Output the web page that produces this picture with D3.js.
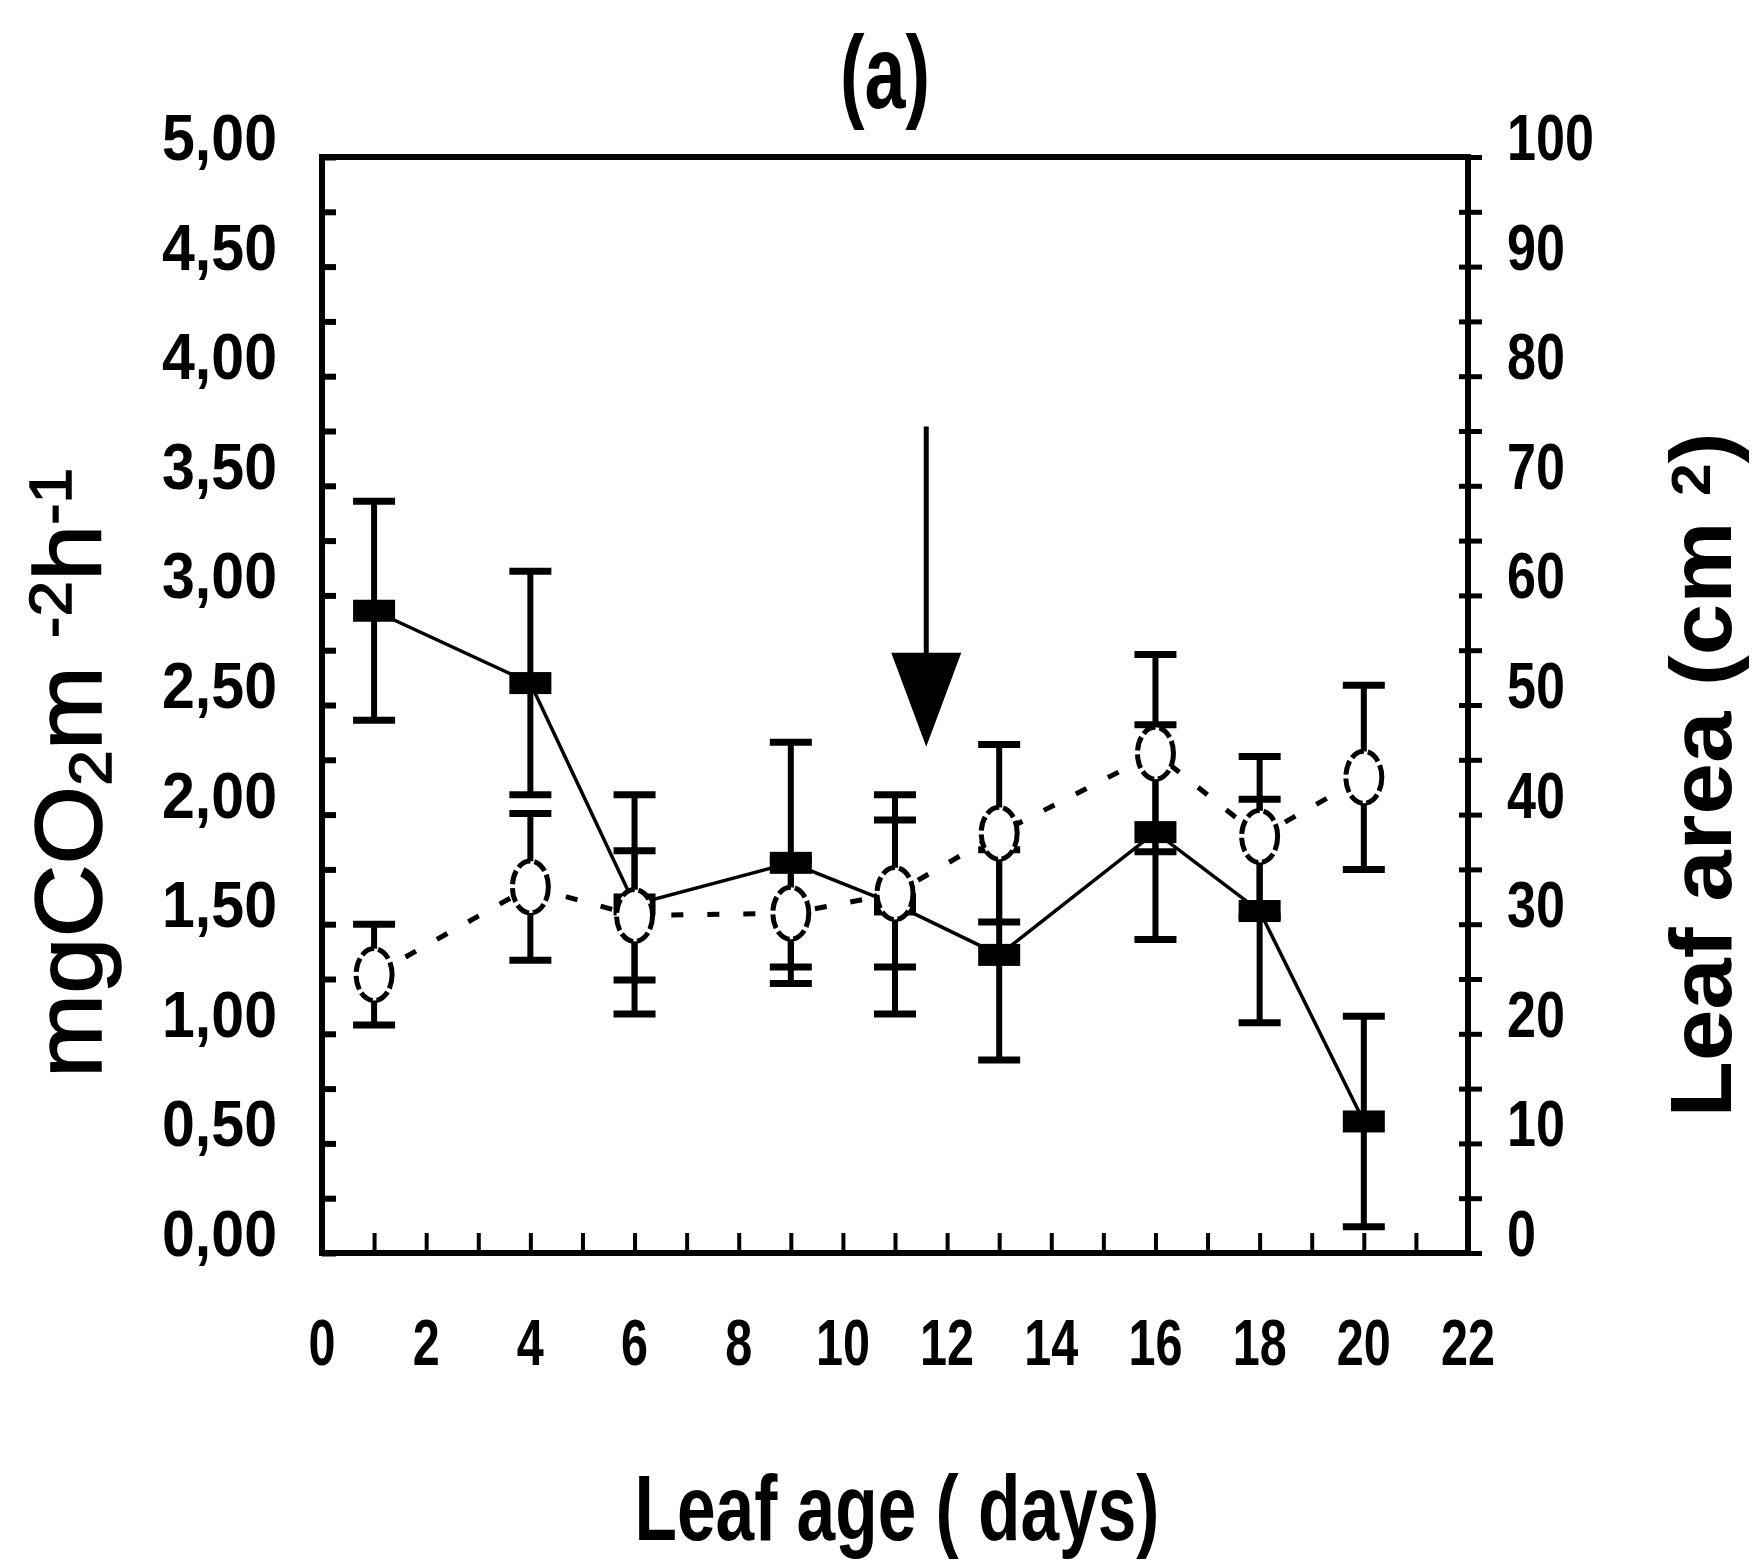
<!DOCTYPE html>
<html>
<head>
<meta charset="utf-8">
<script src="https://cdn.jsdelivr.net/npm/d3@7"></script>
<style>
body{margin:0;background:#fff;}
text{white-space:pre;}
</style>
</head>
<body>
<svg id="chart" width="1761" height="1562"></svg>
<script>
// leaf age (days)
var days = [1, 4, 6, 9, 11, 13, 16, 18, 20];
// mgCO2 m-2 h-1 (filled squares, left axis)
var photo = [2.93, 2.60, 1.59, 1.78, 1.59, 1.36, 1.92, 1.56, 0.60];
var photo_err = [0.50, 0.51, 0.50, 0.55, 0.50, 0.48, 0.49, 0.51, 0.48];
// leaf area cm2 (open circles, right axis)
var area = [25.4, 33.4, 30.8, 31.0, 32.8, 38.3, 45.6, 38.0, 43.4];
var area_err = [4.6, 6.7, 5.9, 4.9, 6.7, 8.1, 9.0, 7.3, 8.4];

var x_ticks = [0, 2, 4, 6, 8, 10, 12, 14, 16, 18, 20, 22];
var y_ticks = ["0,00", "0,50", "1,00", "1,50", "2,00", "2,50", "3,00", "3,50", "4,00", "4,50", "5,00"];
var y2_ticks = [0, 10, 20, 30, 40, 50, 60, 70, 80, 90, 100];

// arrow: day, start value, tip value (left axis units)
var arrow_day = 11.6;
var arrow_from = 3.77;
var arrow_to = 2.31;

var svg = d3.select("#chart");
var L = 322, R = 1468, T = 157, B = 1253;

var x = d3.scaleLinear().domain([0, 22]).range([L, R]);
var y = d3.scaleLinear().domain([0, 5]).range([B, T]);
var y2 = d3.scaleLinear().domain([0, 100]).range([B, T]);

var narrow = "'Liberation Sans Narrow','Arial Narrow','Liberation Sans',Arial,sans-serif";

function draw_axes(){
	// left ticks (inside)
	svg.append("g").attr("transform", "translate(" + L + ",0)")
		.call(d3.axisRight(y).tickValues(d3.range(0, 5.01, 0.25)).tickSize(14).tickFormat(""))
		.call(function(g){ g.select(".domain").remove(); })
		.selectAll("line").attr("stroke", "#000").attr("stroke-width", 6);

	// right ticks cross the axis
	svg.append("g").attr("transform", "translate(" + R + ",0)")
		.call(d3.axisRight(y2).tickValues(d3.range(0, 101, 5)).tickSize(14).tickFormat(""))
		.call(function(g){ g.select(".domain").remove(); })
		.selectAll("line").attr("x1", -9).attr("stroke", "#000").attr("stroke-width", 5);

	// bottom ticks (inside)
	svg.append("g").attr("transform", "translate(0," + B + ")")
		.call(d3.axisTop(x).tickValues(d3.range(1, 22)).tickSize(20).tickFormat(""))
		.call(function(g){ g.select(".domain").remove(); })
		.selectAll("line").attr("stroke", "#000").attr("stroke-width", 4);

	svg.append("rect")
		.attr("x", L).attr("y", T)
		.attr("width", R - L).attr("height", B - T)
		.attr("fill", "none").attr("stroke", "#000").attr("stroke-width", 6);

	// tick labels
	svg.selectAll(".ylab").data(y_ticks).enter().append("text")
		.attr("x", 277)
		.attr("y", function(d){ return y(parseFloat(d.replace(",", "."))) + 3; })
		.attr("text-anchor", "end")
		.attr("font-family", narrow).attr("font-weight", "bold").attr("font-size", 64)
		.attr("textLength", 115).attr("lengthAdjust", "spacingAndGlyphs")
		.text(function(d){ return d; });

	svg.selectAll(".y2lab").data(y2_ticks).enter().append("text")
		.attr("x", 1507)
		.attr("y", function(d){ return y2(d) + 3; })
		.attr("font-family", narrow).attr("font-weight", "bold").attr("font-size", 64)
		.attr("textLength", function(d){ return String(d).length * 29; })
		.attr("lengthAdjust", "spacingAndGlyphs")
		.text(function(d){ return d; });

	svg.selectAll(".xlab").data(x_ticks).enter().append("text")
		.attr("x", function(d){ return x(d); })
		.attr("y", 1365)
		.attr("text-anchor", "middle")
		.attr("font-family", narrow).attr("font-weight", "bold").attr("font-size", 64)
		.attr("textLength", function(d){ return String(d).length * 27; })
		.attr("lengthAdjust", "spacingAndGlyphs")
		.text(function(d){ return d; });
}

function draw_titles(){
	svg.append("text")
		.attr("x", 885).attr("y", 108)
		.attr("text-anchor", "middle")
		.attr("font-family", narrow).attr("font-weight", "bold").attr("font-size", 104)
		.attr("textLength", 90).attr("lengthAdjust", "spacingAndGlyphs")
		.text("(a)");

	svg.append("text")
		.attr("x", 897).attr("y", 1540)
		.attr("text-anchor", "middle")
		.attr("font-family", narrow).attr("font-weight", "bold").attr("font-size", 92)
		.attr("textLength", 525).attr("lengthAdjust", "spacingAndGlyphs")
		.text("Leaf age ( days)");

	var yl = svg.append("text")
		.attr("transform", "translate(101,773) rotate(-90)")
		.attr("text-anchor", "middle")
		.attr("font-family", "'Liberation Sans',Arial,sans-serif")
		.attr("font-size", 95)
		.attr("textLength", 610).attr("lengthAdjust", "spacingAndGlyphs")
		.attr("stroke", "#000").attr("stroke-width", 1.5);
	yl.append("tspan").text("mgCO");
	yl.append("tspan").attr("dy", 10).attr("font-size", 60).text("2");
	yl.append("tspan").attr("dy", -10).text("m ");
	yl.append("tspan").attr("dy", -30).attr("font-size", 60).text("-2");
	yl.append("tspan").attr("dy", 30).text("h");
	yl.append("tspan").attr("dy", -30).attr("font-size", 60).text("-1");

	var yr = svg.append("text")
		.attr("transform", "translate(1731,775) rotate(-90)")
		.attr("text-anchor", "middle")
		.attr("font-family", "'Liberation Sans',Arial,sans-serif")
		.attr("font-weight", "bold")
		.attr("font-size", 88)
		.attr("textLength", 685).attr("lengthAdjust", "spacingAndGlyphs");
	yr.append("tspan").text("Leaf area (cm ");
	yr.append("tspan").attr("dy", -21).attr("font-size", 56).text("2");
	yr.append("tspan").attr("dy", 21).text(")");
}

function error_bars(vals, errs, scale){
	var g = svg.append("g").attr("stroke", "#000");
	days.forEach(function(d, i){
		var top = scale(vals[i] + errs[i]), bot = scale(vals[i] - errs[i]);
		g.append("line").attr("x1", x(d)).attr("x2", x(d)).attr("y1", top).attr("y2", bot).attr("stroke-width", 6);
		[top, bot].forEach(function(c){
			g.append("line").attr("x1", x(d) - 21).attr("x2", x(d) + 21).attr("y1", c).attr("y2", c).attr("stroke-width", 7);
		});
	});
}

function draw_series(){
	error_bars(area, area_err, y2);
	error_bars(photo, photo_err, y);

	var line_area = d3.line().x(function(d, i){ return x(days[i]); }).y(function(d){ return y2(d); });
	svg.append("path").attr("d", line_area(area))
		.attr("fill", "none").attr("stroke", "#000").attr("stroke-width", 5)
		.attr("stroke-dasharray", "12 24");

	var line_photo = d3.line().x(function(d, i){ return x(days[i]); }).y(function(d){ return y(d); });
	svg.append("path").attr("d", line_photo(photo))
		.attr("fill", "none").attr("stroke", "#000").attr("stroke-width", 3.5);

	svg.selectAll(".sq").data(photo).enter().append("rect")
		.attr("x", function(d, i){ return x(days[i]) - 21; })
		.attr("y", function(d){ return y(d) - 11; })
		.attr("width", 42).attr("height", 22)
		.attr("fill", "#000");

	svg.selectAll(".circ").data(area).enter().append("ellipse")
		.attr("cx", function(d, i){ return x(days[i]); })
		.attr("cy", function(d){ return y2(d); })
		.attr("rx", 18).attr("ry", 26)
		.attr("fill", "#fff").attr("stroke", "#000").attr("stroke-width", 5)
		.attr("stroke-dasharray", "14 4");
}

function draw_arrow(){
	var ax = x(arrow_day);
	var tip = y(arrow_to);
	svg.append("line")
		.attr("x1", ax).attr("x2", ax)
		.attr("y1", y(arrow_from)).attr("y2", tip - 60)
		.attr("stroke", "#000").attr("stroke-width", 5);
	svg.append("path")
		.attr("d", "M" + (ax - 35) + "," + (tip - 94) + "L" + (ax + 35) + "," + (tip - 94) + "L" + ax + "," + tip + "Z")
		.attr("fill", "#000");
}

draw_axes();
draw_series();
draw_arrow();
draw_titles();
</script>
</body>
</html>
